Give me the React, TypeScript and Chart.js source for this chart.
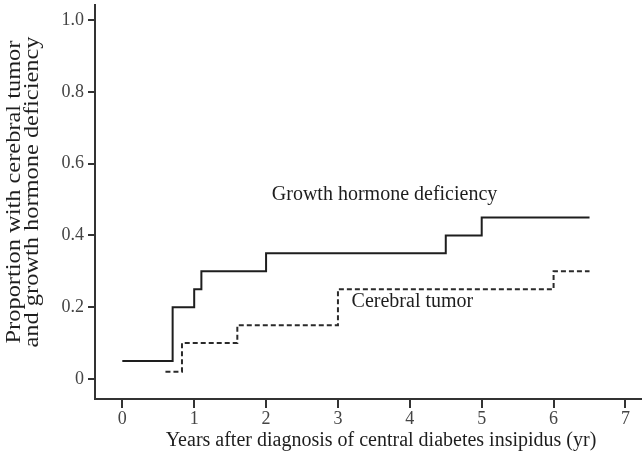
import React, { useEffect, useRef } from "react";
import { Chart, registerables } from "chart.js";

Chart.register(...registerables);

// Growth hormone deficiency (solid step curve)
const ghdX = [0, 0.7, 1.0, 1.1, 2.0, 4.5, 5.0, 6.5];
const ghdY = [0.05, 0.2, 0.25, 0.3, 0.35, 0.4, 0.45, 0.45];
// Cerebral tumor (dashed step curve)
const tumorX = [0.6, 0.83, 1.6, 3.0, 6.0, 6.5];
const tumorY = [0.02, 0.1, 0.15, 0.25, 0.3, 0.3];

const xTicks = [0, 1, 2, 3, 4, 5, 6, 7];
const xTickLabels = ["0", "1", "2", "3", "4", "5", "6", "7"];
const yTicks = [0, 0.2, 0.4, 0.6, 0.8, 1.0];
const yTickLabels = ["0", "0.2", "0.4", "0.6", "0.8", "1.0"];

const xTitle = "Years after diagnosis of central diabetes insipidus (yr)";
const yTitle = ["Proportion with cerebral tumor", "and growth hormone deficiency"];

const curveLabels = ["Growth hormone deficiency", "Cerebral tumor"];
const curveLabelX = [2.08, 3.19];
const curveLabelY = [0.5, 0.2];

const FONT = '"Liberation Serif", "Times New Roman", serif';

export default function App() {
  const ref = useRef<HTMLCanvasElement | null>(null);

  useEffect(() => {
    if (!ref.current) return;

    const textPlugin = {
      id: "texts",
      afterDraw(chart: any) {
        const ctx = chart.ctx;
        const xs = chart.scales.x;
        const ys = chart.scales.y;
        ctx.save();
        ctx.fillStyle = "#1e1e1e";
        ctx.font = `20px ${FONT}`;
        // curve labels
        ctx.textAlign = "left";
        ctx.textBaseline = "alphabetic";
        curveLabels.forEach((t, i) => {
          ctx.fillText(t, xs.getPixelForValue(curveLabelX[i]), ys.getPixelForValue(curveLabelY[i]));
        });
        // x title
        ctx.textAlign = "center";
        ctx.textBaseline = "middle";
        ctx.fillText(xTitle, 381, 441);
        // y title (slightly stretched along its length, as in the original)
        ctx.translate(0, 192);
        ctx.rotate(-Math.PI / 2);
        ctx.scale(1.22, 1);
        ctx.fillText(yTitle[0], 0, 15);
        ctx.fillText(yTitle[1], 0, 33);
        ctx.restore();
      },
    };

    const chart = new Chart(ref.current, {
      type: "line",
      data: {
        datasets: [
          {
            label: "Growth hormone deficiency",
            data: ghdX.map((x, i) => ({ x, y: ghdY[i] })),
            stepped: true,
            borderColor: "#1e1e1e",
            borderWidth: 2,
            pointRadius: 0,
            fill: false,
          },
          {
            label: "Cerebral tumor",
            data: tumorX.map((x, i) => ({ x, y: tumorY[i] })),
            stepped: true,
            borderColor: "#2a2a2a",
            borderWidth: 2,
            borderDash: [5, 3],
            pointRadius: 0,
            fill: false,
          },
        ],
      },
      options: {
        responsive: false,
        animation: false,
        layout: { padding: { top: 5, right: 0, left: 0, bottom: 0 } },
        plugins: {
          legend: { display: false },
          tooltip: { enabled: false },
        },
        scales: {
          x: {
            type: "linear",
            min: -0.38,
            max: 7.23,
            afterBuildTicks: (s: any) => {
              s.ticks = xTicks.map((v) => ({ value: v }));
            },
            afterFit: (s: any) => {
              s.height = 62;
              s.paddingLeft = 0;
              s.paddingRight = 0;
            },
            ticks: {
              color: "#444",
              font: { family: FONT, size: 18 },
              padding: 0,
              maxRotation: 0,
              autoSkip: false,
              callback: (v: any) => {
                const i = xTicks.indexOf(Number(v));
                return i >= 0 ? xTickLabels[i] : "";
              },
            },
            grid: {
              drawOnChartArea: false,
              drawTicks: true,
              tickLength: 9,
              color: "#333",
              lineWidth: 2,
            },
            border: { display: true, color: "#333", width: 2 },
          },
          y: {
            type: "linear",
            min: -0.0557,
            max: 1.0418,
            afterBuildTicks: (s: any) => {
              s.ticks = yTicks.map((v) => ({ value: v }));
            },
            afterFit: (s: any) => {
              s.width = 95;
              s.paddingTop = 0;
              s.paddingBottom = 0;
            },
            ticks: {
              color: "#444",
              font: { family: FONT, size: 18 },
              padding: 4,
              autoSkip: false,
              callback: (v: any) => {
                const i = yTicks.findIndex((t) => Math.abs(t - Number(v)) < 1e-9);
                return i >= 0 ? yTickLabels[i] : "";
              },
            },
            grid: {
              drawOnChartArea: false,
              drawTicks: true,
              tickLength: 7,
              color: "#333",
              lineWidth: 2,
            },
            border: { display: true, color: "#333", width: 2 },
          },
        },
      },
      plugins: [textPlugin],
    });

    return () => chart.destroy();
  }, []);

  return (
    <div style={{ position: "absolute", left: 0, top: 0, width: 642, height: 461, background: "#fff" }}>
      <canvas ref={ref} width={642} height={461} style={{ display: "block" }} />
    </div>
  );
}
